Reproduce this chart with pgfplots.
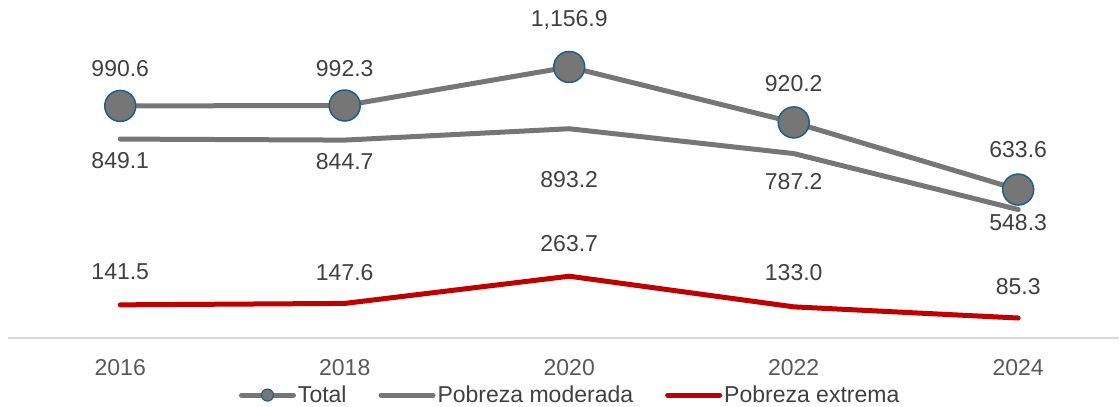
\documentclass[border=0pt]{standalone}
\usepackage{pgfplots}
\usepackage{pgfplotstable}
\usepackage{fontspec}
\setmainfont{Liberation Sans}
\pgfplotsset{compat=1.18}
\definecolor{lgray}{HTML}{767676}
\definecolor{dred}{HTML}{C00000}
\definecolor{mblue}{HTML}{1F5F85}
\definecolor{lbl}{HTML}{404040}
\definecolor{tickc}{HTML}{595959}
\definecolor{axl}{HTML}{D9D9D9}

\pgfplotstableread{
x y dy lab
0 990.6 37 990.6
1 992.3 37 992.3
2 1156.9 47 1,156.9
3 920.2 39 920.2
4 633.6 40 633.6
}\total
\pgfplotstableread{
x y dy lab
0 849.1 -22 849.1
1 844.7 -21 844.7
2 893.2 -51 893.2
3 787.2 -28 787.2
4 548.3 -13 548.3
}\moderada
\pgfplotstableread{
x y dy lab
0 141.5 33 141.5
1 147.6 31 147.6
2 263.7 33 263.7
3 133.0 34 133.0
4 85.3 31 85.3
}\extrema

\begin{document}
\begin{tikzpicture}
\useasboundingbox (-8pt,-69pt) rectangle (1112pt,338pt);
\begin{axis}[
  scale only axis, width=1111pt, height=328pt,
  xmin=-0.5, xmax=4.449, ymin=0, ymax=1400,
  axis y line=none, axis x line*=bottom,
  x axis line style={axl, line width=1.5pt, -},
  xtick={0,1,2,3,4}, xticklabels={2016,2018,2020,2022,2024},
  major tick length=0pt,
  xticklabel style={font=\fontsize{23}{26}\selectfont, text=tickc, anchor=center, yshift=-30pt},
  clip=false,
  legend image code/.code={\draw[mark repeat=2,mark phase=2,#1] plot coordinates {(0pt,0pt)(26pt,0pt)(52pt,0pt)};},
  legend style={at={(0.506,-0.174)}, anchor=center, draw=none, fill=none,
    legend columns=3, font=\fontsize{23}{26}\selectfont, text=lbl,
    nodes={inner xsep=2pt},
    /tikz/every even column/.append style={column sep=30pt}},
  legend cell align=left,
  every node near coord/.append style={anchor=center, font=\fontsize{23}{26}\selectfont, text=lbl, yshift=\dy pt},
  nodes near coords, point meta=explicit symbolic,
  visualization depends on={\thisrow{dy} \as \dy},
]
\addlegendimage{lgray, line width=5pt, line cap=round, mark=*, mark size=6pt, mark options={fill=lgray, draw=mblue, line width=1.2pt}}
\addlegendentry{Total}
\addlegendimage{lgray, line width=5pt, line cap=round}
\addlegendentry{Pobreza moderada}
\addlegendimage{dred, line width=5pt, line cap=round}
\addlegendentry{Pobreza extrema}

\addplot[forget plot, lgray, line width=5pt, line cap=round, line join=round, mark=none]
  table[x=x, y=y, meta=lab]{\moderada};
\addplot[forget plot, dred, line width=5pt, line cap=round, line join=round, mark=none]
  table[x=x, y=y, meta=lab]{\extrema};
\addplot[forget plot, lgray, line width=5pt, line cap=round, line join=round, mark=*, mark size=15.5pt,
  mark options={fill=lgray, draw=mblue, line width=1.5pt}]
  table[x=x, y=y, meta=lab]{\total};
\end{axis}
\end{tikzpicture}
\end{document}
